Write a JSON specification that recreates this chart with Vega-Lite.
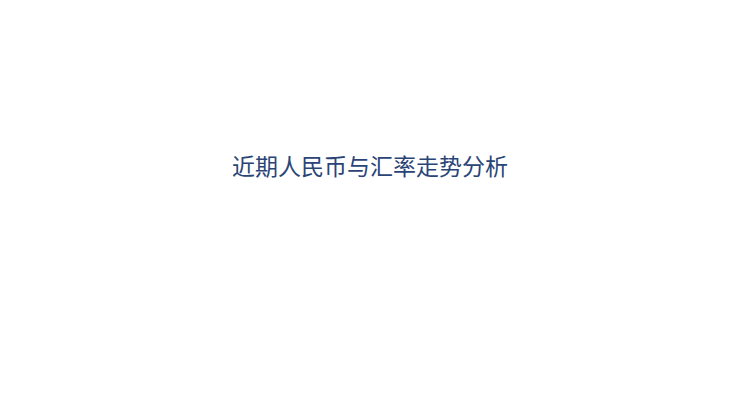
{
  "$schema": "https://vega.github.io/schema/vega-lite/v6.json",
  "width": 740,
  "height": 416,
  "autosize": {"type": "fit", "contains": "padding"},
  "padding": 0,
  "background": "white",
  "view": {"stroke": null},
  "data": {"values": [{"label": "近期人民币与汇率走势分析"}]},
  "mark": {
    "type": "text",
    "font": "Noto Sans CJK SC",
    "fontSize": 23,
    "fontWeight": "normal",
    "align": "center",
    "baseline": "middle",
    "dy": -40,
    "color": "#2b4476"
  },
  "encoding": {
    "text": {"field": "label", "type": "nominal"}
  }
}
